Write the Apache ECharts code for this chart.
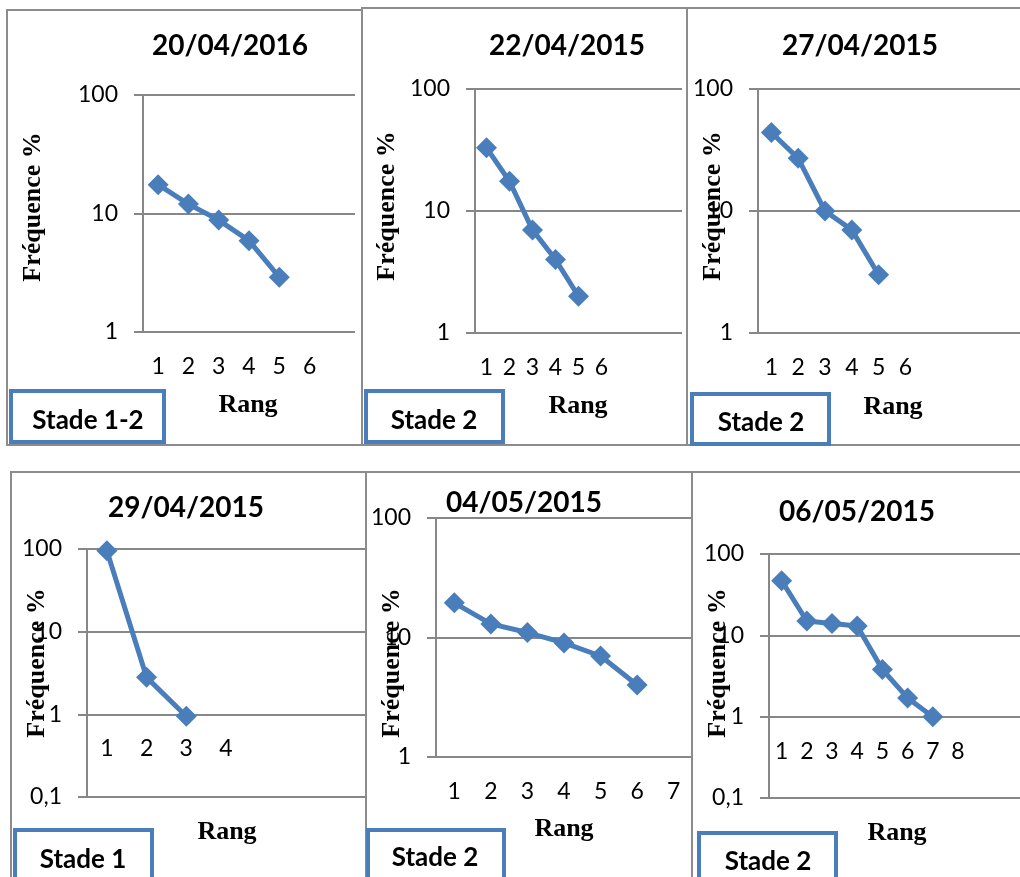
<!DOCTYPE html>
<html>
<head>
<meta charset="utf-8">
<script src="https://cdn.jsdelivr.net/npm/echarts@6/dist/echarts.min.js"></script>
<style>
html, body { margin: 0; padding: 0; background: #fff; }
#chart { width: 1020px; height: 877px; }
</style>
</head>
<body>
<div id="chart"></div>
<script>
// Rank–frequency curves (log scale), one panel per sampling date
const titles = ['20/04/2016', '22/04/2015', '27/04/2015', '29/04/2015', '04/05/2015', '06/05/2015'];
const stades = ['Stade 1-2', 'Stade 2', 'Stade 2', 'Stade 1', 'Stade 2', 'Stade 2'];

// rank categories (tick labels) of each panel
const rangs1 = ['1', '2', '3', '4', '5', '6', ''];
const rangs2 = ['1', '2', '3', '4', '5', '6', '', '', ''];
const rangs3 = ['1', '2', '3', '4', '5', '6', '', '', '', ''];
const rangs4 = ['1', '2', '3', '4', '', '', ''];
const rangs5 = ['1', '2', '3', '4', '5', '6', '7'];
const rangs6 = ['1', '2', '3', '4', '5', '6', '7', '8', '', ''];

// frequency (%) by rank
const freq1 = [17.5, 12, 8.8, 5.9, 2.9];
const freq2 = [33, 17.5, 7, 4, 2];
const freq3 = [44, 27, 10, 7, 3];
const freq4 = [95, 2.8, 0.95];
const freq5 = [19.5, 13, 11, 9, 7, 4];
const freq6 = [47, 15, 14, 13, 3.8, 1.7, 1];

// log axis bounds
const yMin = [1, 1, 1, 0.1, 1, 0.1];
const yMax = [100, 100, 100, 100, 100, 100];

const rangs = [rangs1, rangs2, rangs3, rangs4, rangs5, rangs6];
const freqs = [freq1, freq2, freq3, freq4, freq5, freq6];

// panel layout (pixels)
const layout = [
  { grid: [143, 95, 212, 237], frame: [7, 10, 355, 435],  title: [230, 46],  yName: [33, 207],  xName: [248, 405], box: [11, 391, 153, 51], stade: [88, 421] },
  { grid: [475, 89, 207, 244], frame: [362, 8, 325, 437], title: [567, 46],  yName: [387, 206], xName: [578, 406], box: [366, 391, 137, 51], stade: [434, 421] },
  { grid: [758, 89, 268, 244], frame: [687, 8, 340, 437], title: [860, 46],  yName: [713, 206], xName: [893, 407], box: [692, 394, 137, 50], stade: [761, 423] },
  { grid: [87, 549, 278, 248], frame: [11, 472, 355, 420], title: [186, 508], yName: [37, 663],  xName: [227, 832], box: [15, 830, 137, 60], stade: [83, 860] },
  { grid: [436, 518, 256, 239], frame: [366, 472, 326, 420], title: [524, 503], yName: [392, 663], xName: [564, 829], box: [368, 830, 136, 60], stade: [435, 858] },
  { grid: [769, 554, 252, 244], frame: [692, 472, 340, 420], title: [857, 512], yName: [718, 663], xName: [897, 833], box: [699, 833, 137, 60], stade: [768, 862] }
];

const BLUE = '#4A7EBB';
const GRAY = '#878787';
const SANS = 'Lato, "Open Sans", sans-serif';
const SERIF = '"Liberation Serif", "DejaVu Serif", serif';

function text(x, y, str, font, rotation) {
  return {
    type: 'text', x: x, y: y, rotation: rotation || 0, z: 10,
    style: {
      text: str, fill: '#000',
      fontSize: font.size, fontWeight: font.weight, fontFamily: font.family,
      textAlign: 'center', textVerticalAlign: 'middle',
      align: 'center', verticalAlign: 'middle'
    }
  };
}

const grids = [], xAxes = [], yAxes = [], series = [], graphics = [];

layout.forEach(function (p, i) {
  const g = p.grid;
  grids.push({ left: g[0], top: g[1], width: g[2], height: g[3], outerBoundsMode: 'none', containLabel: false });

  // the rank axis crosses the frequency axis at 1
  const crossShift = -g[3] * Math.log10(1 / yMin[i]) / Math.log10(yMax[i] / yMin[i]);

  xAxes.push({
    type: 'category', gridIndex: i, data: rangs[i], boundaryGap: true,
    position: 'bottom', offset: crossShift,
    axisLine: { show: false }, axisTick: { show: false }, splitLine: { show: false },
    axisLabel: { interval: 0, margin: 23, color: '#000', fontSize: 23, fontFamily: SANS }
  });

  yAxes.push({
    type: 'log', logBase: 10, gridIndex: i, min: yMin[i], max: yMax[i],
    axisLine: { show: true, lineStyle: { color: GRAY, width: 2 } },
    axisTick: { show: true, inside: false, length: 9, lineStyle: { color: GRAY, width: 2 } },
    minorTick: { show: false },
    splitLine: { show: true, lineStyle: { color: GRAY, width: 2 } },
    axisLabel: {
      margin: 25, color: '#000', fontSize: 23, fontFamily: SANS,
      formatter: function (v) { return String(+Number(v).toPrecision(4)).replace('.', ','); }
    }
  });

  series.push({
    type: 'line', xAxisIndex: i, yAxisIndex: i, data: freqs[i],
    symbol: 'diamond', symbolSize: 21, showAllSymbol: true,
    lineStyle: { color: BLUE, width: 5 },
    itemStyle: { color: BLUE },
    emphasis: { disabled: true }
  });

  const f = p.frame;
  graphics.push({
    type: 'rect', z: 1, shape: { x: f[0], y: f[1], width: f[2], height: f[3] },
    style: { fill: 'none', stroke: '#8C8C8C', lineWidth: 2 }
  });
  const b = p.box;
  graphics.push({
    type: 'rect', z: 5, shape: { x: b[0], y: b[1], width: b[2], height: b[3] },
    style: { fill: '#fff', stroke: BLUE, lineWidth: 4 }
  });
  graphics.push(text(p.title[0], p.title[1], titles[i], { size: 28, weight: 'bold', family: SANS }));
  graphics.push(text(p.yName[0], p.yName[1], 'Fréquence %', { size: 26, weight: 'bold', family: SERIF }, Math.PI / 2));
  graphics.push(text(p.xName[0], p.xName[1], 'Rang', { size: 26, weight: 'bold', family: SERIF }));
  graphics.push(text(p.stade[0], p.stade[1], stades[i], { size: 26, weight: 'bold', family: SANS }));
});

const chart = echarts.init(document.getElementById('chart'), null, { renderer: 'canvas' });
chart.setOption({
  animation: false,
  backgroundColor: '#fff',
  grid: grids,
  xAxis: xAxes,
  yAxis: yAxes,
  series: series,
  graphic: { elements: graphics }
});
</script>
</body>
</html>
